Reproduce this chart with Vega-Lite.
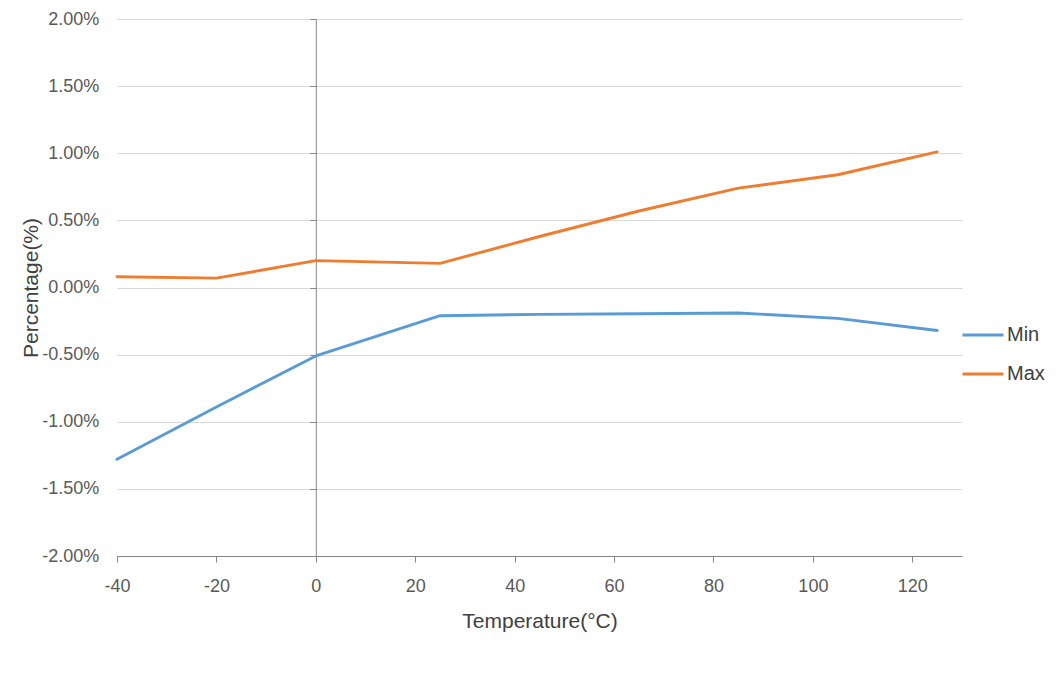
{
  "$schema": "https://vega.github.io/schema/vega-lite/v6.json",
  "width": 845,
  "height": 537,
  "autosize": {"type": "none"},
  "padding": {"left": 117, "top": 19, "right": 95, "bottom": 144},
  "background": "white",
  "config": {
    "view": {"stroke": null},
    "font": "Liberation Sans"
  },
  "data": {
    "values": [
      {"t": -40, "series": "Min", "v": -0.0128},
      {"t": -20, "series": "Min", "v": -0.0089},
      {"t": 0, "series": "Min", "v": -0.0051},
      {"t": 25, "series": "Min", "v": -0.0021},
      {"t": 45, "series": "Min", "v": -0.0020},
      {"t": 65, "series": "Min", "v": -0.00195},
      {"t": 85, "series": "Min", "v": -0.0019},
      {"t": 105, "series": "Min", "v": -0.0023},
      {"t": 125, "series": "Min", "v": -0.0032},
      {"t": -40, "series": "Max", "v": 0.0008},
      {"t": -20, "series": "Max", "v": 0.0007},
      {"t": 0, "series": "Max", "v": 0.0020},
      {"t": 25, "series": "Max", "v": 0.0018},
      {"t": 45, "series": "Max", "v": 0.0038},
      {"t": 65, "series": "Max", "v": 0.0057},
      {"t": 85, "series": "Max", "v": 0.0074},
      {"t": 105, "series": "Max", "v": 0.0084},
      {"t": 125, "series": "Max", "v": 0.0101}
    ]
  },
  "mark": {"type": "line", "strokeWidth": 2.9, "strokeCap": "round", "strokeJoin": "round"},
  "encoding": {
    "x": {
      "field": "t",
      "type": "quantitative",
      "scale": {"domain": [-40, 130], "nice": false, "zero": false},
      "axis": {
        "title": "Temperature(°C)",
        "values": [-40, -20, 0, 20, 40, 60, 80, 100, 120],
        "labelExpr": "replace(datum.label, '−', '-')",
        "grid": false,
        "domainColor": "#868686",
        "domainWidth": 1,
        "tickColor": "#868686",
        "tickSize": 6,
        "labelFontSize": 18,
        "labelColor": "#595959",
        "labelPadding": 15,
        "labelFlush": false,
        "titleFontSize": 21,
        "titleFontWeight": "normal",
        "titleColor": "#404040",
        "titleBaseline": "middle",
        "titleY": 65
      }
    },
    "y": {
      "field": "v",
      "type": "quantitative",
      "scale": {"domain": [-0.02, 0.02], "nice": false},
      "axis": {
        "title": "Percentage(%)",
        "format": ".2%",
        "labelExpr": "replace(datum.label, '−', '-')",
        "values": [-0.02, -0.015, -0.01, -0.005, 0, 0.005, 0.01, 0.015, 0.02],
        "offset": -198.8,
        "grid": true,
        "gridColor": "#d9d9d9",
        "gridWidth": 1,
        "domainColor": "#868686",
        "domainWidth": 1,
        "tickColor": "#868686",
        "tickSize": 6,
        "labelFontSize": 18,
        "labelColor": "#595959",
        "labelPadding": 211,
        "labelFlush": false,
        "titleFontSize": 21,
        "titleFontWeight": "normal",
        "titleColor": "#404040",
        "titleBaseline": "middle",
        "titleAngle": -90,
        "titleX": -284
      }
    },
    "color": {
      "field": "series",
      "type": "nominal",
      "scale": {"domain": ["Min", "Max"], "range": ["#5b9bd5", "#ed7d31"]},
      "legend": {
        "title": null,
        "orient": "none",
        "legendX": 844,
        "legendY": 294,
        "padding": 0,
        "symbolType": "stroke",
        "symbolSize": 1681,
        "symbolStrokeWidth": 2.9,
        "labelFontSize": 20,
        "labelColor": "#404040",
        "labelOffset": 2,
        "rowPadding": 7
      }
    }
  }
}
